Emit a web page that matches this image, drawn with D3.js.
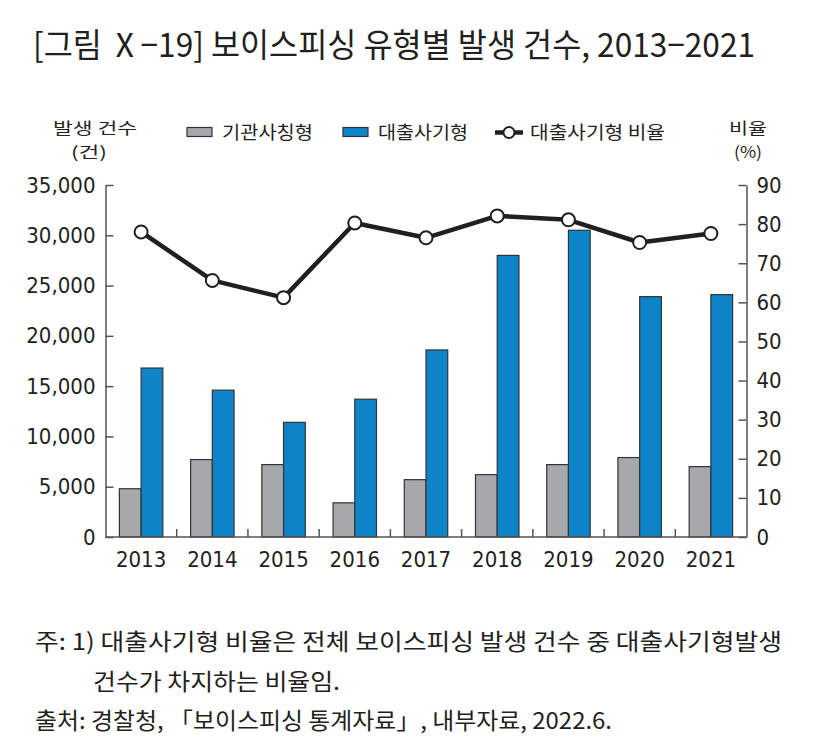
<!DOCTYPE html>
<html>
<head>
<meta charset="utf-8">
<script src="https://cdn.jsdelivr.net/npm/d3@7"></script>
<style>
  body { margin: 0; background: #fff; }
  svg { display: block; }
  .kr { font-family: "Noto Sans CJK KR", "Noto Sans", sans-serif; fill: #231f20; }
  .num { font-family: "Liberation Sans Narrow", "DejaVu Sans Condensed", sans-serif; fill: #231f20; }
</style>
</head>
<body>
<svg id="chart" width="823" height="751"></svg>
<script>
// data
const years = ['2013', '2014', '2015', '2016', '2017', '2018', '2019', '2020', '2021'];
const govCases = [4800, 7700, 7200, 3400, 5700, 6200, 7200, 7900, 7000];     // 기관사칭형
const loanCases = [16800, 14600, 11400, 13700, 18600, 28000, 30500, 23900, 24100]; // 대출사기형
const loanRatio = [78.0, 65.6, 61.2, 80.3, 76.5, 82.1, 81.1, 75.3, 77.6];   // 대출사기형 비율 (%)
const leftTicks = [0, 5000, 10000, 15000, 20000, 25000, 30000, 35000];
const rightTicks = [0, 10, 20, 30, 40, 50, 60, 70, 80, 90];

const colors = { gov: '#a7a8ab', loan: '#0e84c8', line: '#231f20', axis: '#555' };

const svg = d3.select('#chart');
const plot = { left: 105.5, right: 746.5, top: 185, bottom: 537 };

// title
svg.append('text')
  .attr('class', 'kr')
  .attr('x', 33).attr('y', 57)
  .attr('font-size', 33)
  .attr('textLength', 722).attr('lengthAdjust', 'spacingAndGlyphs')
  .text('[그림 Ⅹ−19] 보이스피싱 유형별 발생 건수, 2013−2021');

// scales
const x = d3.scaleBand().domain(years).range([plot.left, plot.right]).paddingInner(0.39).paddingOuter(0.195);
const xSub = d3.scaleBand().domain(['gov', 'loan']).range([0, x.bandwidth()]);
const yL = d3.scaleLinear().domain([0, 35000]).range([plot.bottom, plot.top]);
const yR = d3.scaleLinear().domain([0, 90]).range([plot.bottom, plot.top]);

// bars
const rows = years.map((y, i) => ({ year: y, gov: govCases[i], loan: loanCases[i], ratio: loanRatio[i] }));

const groups = svg.append('g').selectAll('g')
  .data(rows)
  .enter()
  .append('g')
  .attr('transform', d => `translate(${x(d.year)},0)`);

groups.selectAll('rect')
  .data(d => ['gov', 'loan'].map(k => ({ key: k, value: d[k] })))
  .enter()
  .append('rect')
  .attr('x', d => xSub(d.key))
  .attr('width', xSub.bandwidth())
  .attr('y', d => yL(d.value))
  .attr('height', d => yL(0) - yL(d.value))
  .attr('fill', d => colors[d.key])
  .attr('stroke', '#333')
  .attr('stroke-width', 1.2);

// axes
const axisL = svg.append('g')
  .attr('transform', `translate(${plot.left},0)`)
  .call(d3.axisLeft(yL).tickValues(leftTicks).tickSizeInner(-8).tickSizeOuter(0)
    .tickPadding(10).tickFormat(d3.format(',')));

const axisR = svg.append('g')
  .attr('transform', `translate(${plot.right},0)`)
  .call(d3.axisRight(yR).tickValues(rightTicks).tickSizeInner(-8).tickSizeOuter(0)
    .tickPadding(10));

const axisB = svg.append('g')
  .attr('transform', `translate(0,${plot.bottom})`)
  .call(d3.axisBottom(x).tickSize(0).tickPadding(14));

[axisL, axisR, axisB].forEach(a => {
  a.select('.domain').attr('stroke', colors.axis).attr('stroke-width', 1.5);
  a.selectAll('.tick line').attr('stroke', colors.axis).attr('stroke-width', 1.5);
  a.selectAll('text')
    .attr('class', 'num')
    .attr('font-size', 22)
    .attr('fill', '#231f20');
});
axisB.select('.domain').attr('d', `M${plot.left},0H${plot.right}`);

// category separators
svg.append('g').selectAll('line')
  .data(years.slice(1))
  .enter()
  .append('line')
  .attr('x1', d => x(d) - x.step() * x.paddingInner() / 2)
  .attr('x2', d => x(d) - x.step() * x.paddingInner() / 2)
  .attr('y1', plot.bottom)
  .attr('y2', plot.bottom - 8)
  .attr('stroke', colors.axis)
  .attr('stroke-width', 1.5);

// ratio line
const cx = d => x(d.year) + x.bandwidth() / 2;
svg.append('path')
  .datum(rows)
  .attr('fill', 'none')
  .attr('stroke', colors.line)
  .attr('stroke-width', 4.5)
  .attr('stroke-linejoin', 'round')
  .attr('d', d3.line().x(cx).y(d => yR(d.ratio)));

svg.append('g').selectAll('circle')
  .data(rows)
  .enter()
  .append('circle')
  .attr('cx', cx)
  .attr('cy', d => yR(d.ratio))
  .attr('r', 6.5)
  .attr('fill', '#fff')
  .attr('stroke', colors.line)
  .attr('stroke-width', 2);

// axis titles
const axisTitle = (tx, ty, s, len) => svg.append('text')
  .attr('class', 'kr').attr('x', tx).attr('y', ty)
  .attr('font-size', 16).attr('text-anchor', 'middle')
  .attr('textLength', len).attr('lengthAdjust', 'spacingAndGlyphs')
  .text(s);
axisTitle(95, 133.5, '발생 건수', 84);
axisTitle(89, 157.5, '(건)', 36);
axisTitle(748, 133.5, '비율', 38);
axisTitle(748, 157.5, '(%)', 28);

// legend
const legend = svg.append('g');
[['gov', 187, 222, '기관사칭형', 91], ['loan', 343, 378, '대출사기형', 90]].forEach(([k, sx, tx, label, len]) => {
  legend.append('rect')
    .attr('x', sx).attr('y', 127.5).attr('width', 25).attr('height', 9)
    .attr('fill', colors[k]).attr('stroke', '#333').attr('stroke-width', 1.2);
  legend.append('text')
    .attr('class', 'kr').attr('x', tx).attr('y', 139)
    .attr('font-size', 18)
    .attr('textLength', len).attr('lengthAdjust', 'spacingAndGlyphs')
    .text(label);
});
legend.append('line')
  .attr('x1', 495).attr('x2', 523).attr('y1', 132.5).attr('y2', 132.5)
  .attr('stroke', colors.line).attr('stroke-width', 4.5);
legend.append('circle')
  .attr('cx', 509).attr('cy', 132.5).attr('r', 5.5)
  .attr('fill', '#fff').attr('stroke', colors.line).attr('stroke-width', 2);
legend.append('text')
  .attr('class', 'kr').attr('x', 530).attr('y', 139)
  .attr('font-size', 18)
  .attr('textLength', 135).attr('lengthAdjust', 'spacingAndGlyphs')
  .text('대출사기형 비율');

// notes
const notes = [
  [35, 650, '주: 1) 대출사기형 비율은 전체 보이스피싱 발생 건수 중 대출사기형발생', 747],
  [93, 690, '건수가 차지하는 비율임.', 247],
  [35, 729, '출처: 경찰청, 「보이스피싱 통계자료」, 내부자료, 2022.6.', 577]
];
notes.forEach(([nx, ny, s, len]) => {
  svg.append('text')
    .attr('class', 'kr').attr('x', nx).attr('y', ny)
    .attr('font-size', 23)
    .attr('fill', '#333')
    .attr('textLength', len).attr('lengthAdjust', 'spacingAndGlyphs')
    .text(s);
});
</script>
</body>
</html>
